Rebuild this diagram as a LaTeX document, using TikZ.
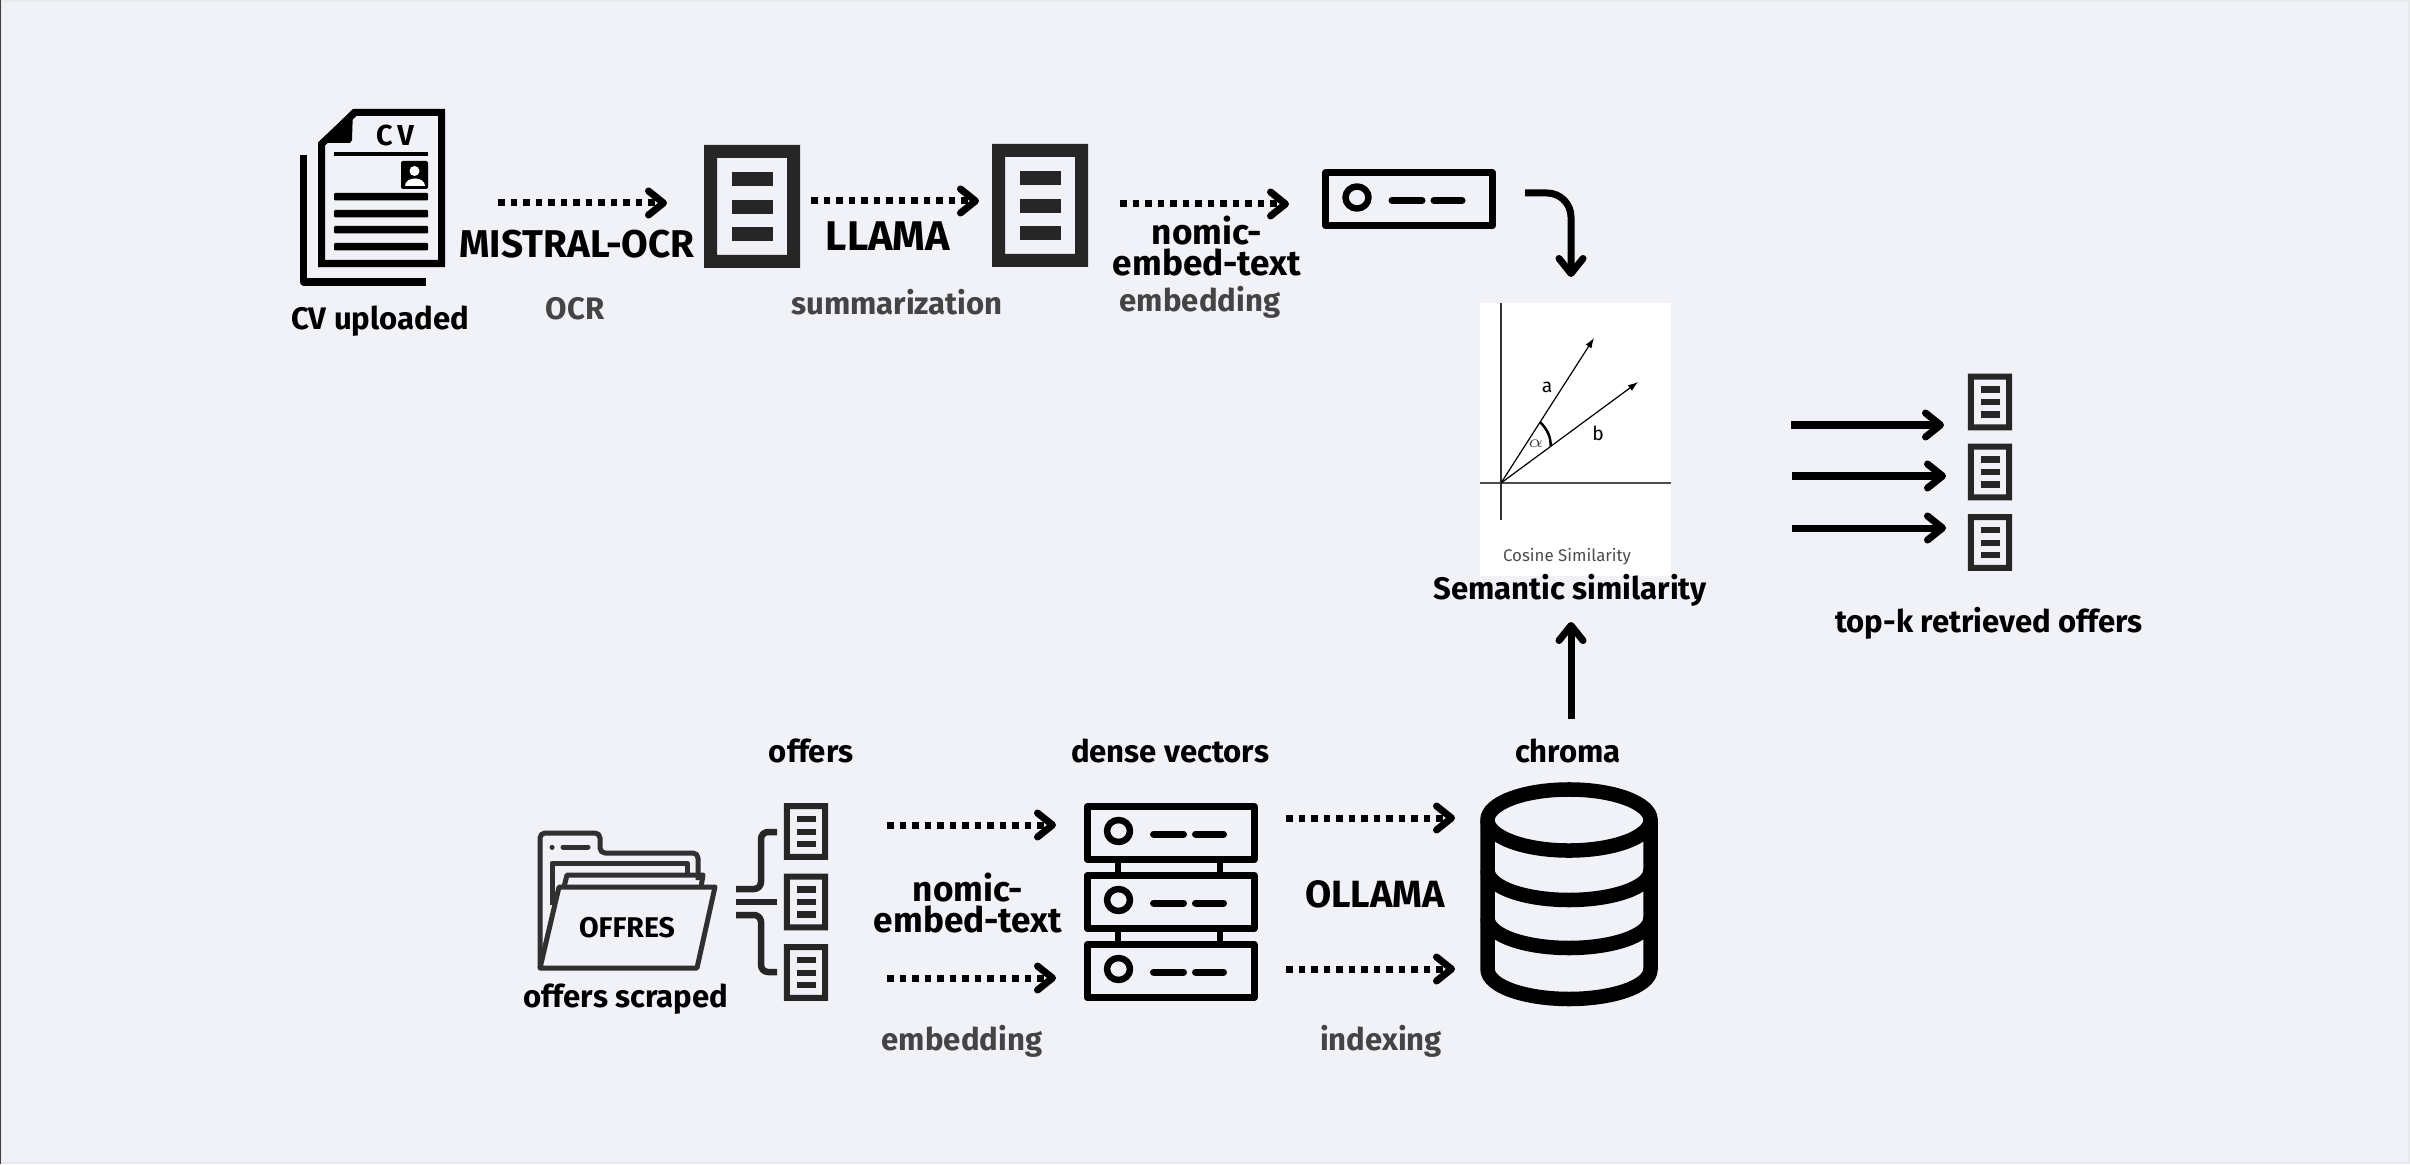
\documentclass[tikz,border=0pt]{standalone}
\usepackage{xcolor}
\usepackage{fontspec}
\setmainfont{Fira Sans}
\usetikzlibrary{arrows.meta,calc}

\definecolor{bgcol}{RGB}{241,242,248}
\definecolor{edgecol}{RGB}{232,233,236}
\definecolor{doccol}{RGB}{38,38,38}
\definecolor{subcol}{RGB}{68,68,68}
\definecolor{foldcol}{RGB}{48,48,48}

\tikzset{
  flow/.style={line width=0.07cm,-{Straight Barb[round,length=0.15cm,width=0.24cm]}},
  dotflow/.style={flow,dash pattern=on 0.065cm off 0.06cm},
  bigtxt/.style={inner sep=0pt,font=\fontsize{#1}{7.4}\selectfont\bfseries,align=center},
  bigtxt/.default=10,
  captxt/.style={inner sep=0pt,font=\fontsize{8.85}{10}\selectfont\bfseries},
  subtxt/.style={captxt,text=subcol},
  handtxt/.style={inner sep=0pt,text=black!70,font=\fontsize{4.8}{6}\selectfont},
  docicon/.pic={
    \fill[doccol,even odd rule] (-48,-61.5) rectangle (48,61.5) (-35,-48.5) rectangle (35,48.5);
    \fill[doccol] (-20,-34.5) rectangle (21,-20.5);
    \fill[doccol] (-20,-6.5) rectangle (21,7.5);
    \fill[doccol] (-20,20.5) rectangle (21,34.5);
  },
  serverbox/.pic={
    \draw[line width=0.07cm,line join=round] (-83.5,-26.5) rectangle (83.5,26.5);
    \draw[line width=0.065cm] (-52,-2) ellipse (0.115cm and 0.11cm);
    \draw[line width=0.07cm,line cap=round] (-17,1) -- (13,1);
    \draw[line width=0.07cm,line cap=round] (25,1) -- (53,1);
  },
}

\begin{document}
\begin{tikzpicture}[x=0.01cm,y=-0.01cm,line join=round]
  \useasboundingbox (0,0) rectangle (2410,1164);
  \fill[edgecol] (0,0) rectangle (2410,1164);
  \fill[bgcol] (2,2) rectangle (2408,1162);
  \fill[black!75] (0,0) rectangle (1.5,1164);

  % flow coordinates
  \coordinate (A1s) at (498,203);
  \coordinate (A1e) at (667,203);
  \coordinate (A2s) at (811,201);
  \coordinate (A2e) at (979,201);
  \coordinate (A3s) at (1120,204);
  \coordinate (A3e) at (1289,204);
  \coordinate (B1s) at (1525,193);
  \coordinate (B1e) at (1571,277);
  \coordinate (C1s) at (887,825);
  \coordinate (C1e) at (1056,825);
  \coordinate (C2s) at (887,978);
  \coordinate (C2e) at (1056,978);
  \coordinate (D1s) at (1286,818);
  \coordinate (D1e) at (1455,818);
  \coordinate (D2s) at (1286,969);
  \coordinate (D2e) at (1455,969);
  \coordinate (E1s) at (1571,719);
  \coordinate (E1e) at (1571,622);
  \coordinate (R1s) at (1791,425);
  \coordinate (R1e) at (1944,425);
  \coordinate (R2s) at (1792,476);
  \coordinate (R2e) at (1946,476);
  \coordinate (R3s) at (1792,528);
  \coordinate (R3e) at (1946,528);

  % cv sheet
  \draw[line width=0.07cm] (303.5,155) -- (303.5,282) -- (426,282);
  \draw[line width=0.07cm,line join=miter] (355,112.5) -- (441.5,112.5) -- (441.5,263.5) -- (321.5,263.5) -- (321.5,144) -- cycle;
  \fill (353,109) -- (318,143) -- (350,143) -- (352,140) -- cycle;
  \fill (334,152) rectangle (428,156);
  \fill[rounded corners=0.02cm] (401,161) rectangle (428,189);
  \fill[white] (414.5,171) circle (0.05cm);
  \fill[white] (404.5,186) .. controls (404.5,176) and (424.5,176) .. (424.5,186) -- cycle;
  \foreach \yy in {193,210,226,243} {
    \fill[rounded corners=0.01cm] (334,\yy) rectangle (428,\yy+7.5);
  }
  \node[inner sep=0pt,font=\fontsize{8.2}{8}\selectfont\bfseries] (CVmark) at (395,136) {C\,V};

  % documents
  \pic (docA) at (752,206.5) {docicon};
  \pic (docB) at (1040,205.5) {docicon};
  \pic[scale=0.46] (offA) at (806,831.5) {docicon};
  \pic[scale=0.46] (offB) at (806,902) {docicon};
  \pic[scale=0.46] (offC) at (806,972.5) {docicon};
  \pic[scale=0.46] (topA) at (1990,402) {docicon};
  \pic[scale=0.46] (topB) at (1990,472) {docicon};
  \pic[scale=0.46] (topC) at (1990,542.5) {docicon};

  % vector records
  \pic (vecQ) at (1409,199.5) {serverbox};
  \draw[line width=0.06cm] (1118,860) -- (1118,875);
  \draw[line width=0.06cm] (1220,860) -- (1220,875);
  \draw[line width=0.06cm] (1118,929) -- (1118,944);
  \draw[line width=0.06cm] (1220,929) -- (1220,944);
  \pic (vecA) at (1170.5,833) {serverbox};
  \pic (vecB) at (1170.5,902) {serverbox};
  \pic (vecC) at (1170.5,971) {serverbox};

  % similarity panel
  \node[fill=white,inner sep=0pt,minimum width=1.91cm,minimum height=2.73cm] (SIM) at (1575.5,439.5) {};
  \coordinate (O) at (1501,483);
  \draw[line width=0.012cm,black!80] (1501,303) -- (1501,520);
  \draw[line width=0.016cm,black!70] (1480,483) -- (1671,483);
  \draw[line width=0.012cm,-{Latex[length=0.1cm,width=0.07cm]}] (O) -- (1594,338);
  \draw[line width=0.012cm,-{Latex[length=0.1cm,width=0.07cm]}] (O) -- (1638,382);
  \draw[line width=0.025cm] (1540,422) .. controls (1548,430) and (1551,438) .. (1550.5,446);
  \node[handtxt,text=black,font=\fontsize{5.5}{6}\selectfont] (LBa) at (1547,387) {a};
  \node[handtxt,text=black,font=\fontsize{5.5}{6}\selectfont] (LBb) at (1598,433) {b};
  \node[handtxt] (LBalpha) at (1536,444) {$\alpha$};
  \node[handtxt] (LBcos) at (1567,557) {Cosine Similarity};

  % database
  \draw[line width=0.145cm,fill=bgcol] (1569,820) ellipse (0.815cm and 0.305cm);
  \draw[line width=0.145cm] (1487.5,820) -- (1487.5,969) .. controls (1487.5,987) and (1527,999) .. (1569,999) .. controls (1611,999) and (1650.5,987) .. (1650.5,969) -- (1650.5,820);
  \draw[line width=0.145cm] (1487.5,870) .. controls (1487.5,888) and (1527,900) .. (1569,900) .. controls (1611,900) and (1650.5,888) .. (1650.5,870);
  \draw[line width=0.145cm] (1487.5,918) .. controls (1487.5,936) and (1527,948) .. (1569,948) .. controls (1611,948) and (1650.5,936) .. (1650.5,918);

  % folder
  \draw[foldcol,line width=0.05cm,rounded corners=0.05cm] (540,968) -- (540,833) -- (600,833) -- (600,853) -- (698,853) -- (698,880);
  \draw[foldcol,line width=0.05cm] (552,905) -- (552,863) -- (687,863) -- (687,875);
  \draw[foldcol,line width=0.05cm] (564,887) -- (567,875) -- (703,875) -- (701,887);
  \draw[foldcol,line width=0.05cm,line cap=round] (552,847) -- (552.1,847);
  \draw[foldcol,line width=0.05cm,line cap=round] (563,847) -- (588,847);
  \draw[foldcol,line width=0.05cm,fill=bgcol] (540,968) -- (559,887) -- (715,887) -- (697,968) -- cycle;
  \node[inner sep=0pt,font=\fontsize{8.1}{8}\selectfont\bfseries] (FOLD) at (627,928) {OFFRES};

  % branch to offers
  \draw[doccol,line width=0.065cm] (736,902) -- (777,902);
  \draw[doccol,line width=0.065cm,rounded corners=0.07cm] (736,889) -- (761,889) -- (761,832) -- (777,832);
  \draw[doccol,line width=0.065cm,rounded corners=0.07cm] (736,915) -- (761,915) -- (761,972) -- (777,972);

  % flows
  \draw[dotflow] (A1s) -- (A1e);
  \draw[dotflow] (A2s) -- (A2e);
  \draw[dotflow] (A3s) -- (A3e);
  \draw[dotflow] (C1s) -- (C1e);
  \draw[dotflow] (C2s) -- (C2e);
  \draw[dotflow] (D1s) -- (D1e);
  \draw[dotflow] (D2s) -- (D2e);
  \draw[flow,rounded corners=0.24cm] (B1s) -| (B1e);
  \draw[flow] (E1s) -- (E1e);
  \draw[flow] (R1s) -- (R1e);
  \draw[flow] (R2s) -- (R2e);
  \draw[flow] (R3s) -- (R3e);

  % labels
  \node[captxt] (CVup) at (380,321) {CV uploaded};
  \node[bigtxt=11] (MOCR) at (577,244) {MISTRAL-OCR};
  \node[subtxt] (OCR) at (575,309) {OCR};
  \node[bigtxt=11.8] (LLM) at (888,236) {LLAMA};
  \node[subtxt] (SUM) at (897,302) {summarization};
  \node[bigtxt] (NET1) at (1207,246) {nomic-\\embed-text};
  \node[subtxt] (EMB1) at (1200,302) {embedding};
  \node[captxt] (SEM) at (1570,590) {Semantic similarity};
  \node[captxt] (TOPK) at (1989,623) {top-k retrieved offers};
  \node[captxt] (OFF) at (811,751) {offers};
  \node[captxt] (DENSE) at (1170,751) {dense vectors};
  \node[captxt] (CHR) at (1568,751) {chroma};
  \node[captxt] (SCR) at (626,999) {offers scraped};
  \node[bigtxt] (NET2) at (968,903) {nomic-\\embed-text};
  \node[bigtxt=10.8] (OLL) at (1375,894) {OLLAMA};
  \node[subtxt] (EMB2) at (962,1041) {embedding};
  \node[subtxt] (IDX) at (1381,1041) {indexing};
\end{tikzpicture}
\end{document}
